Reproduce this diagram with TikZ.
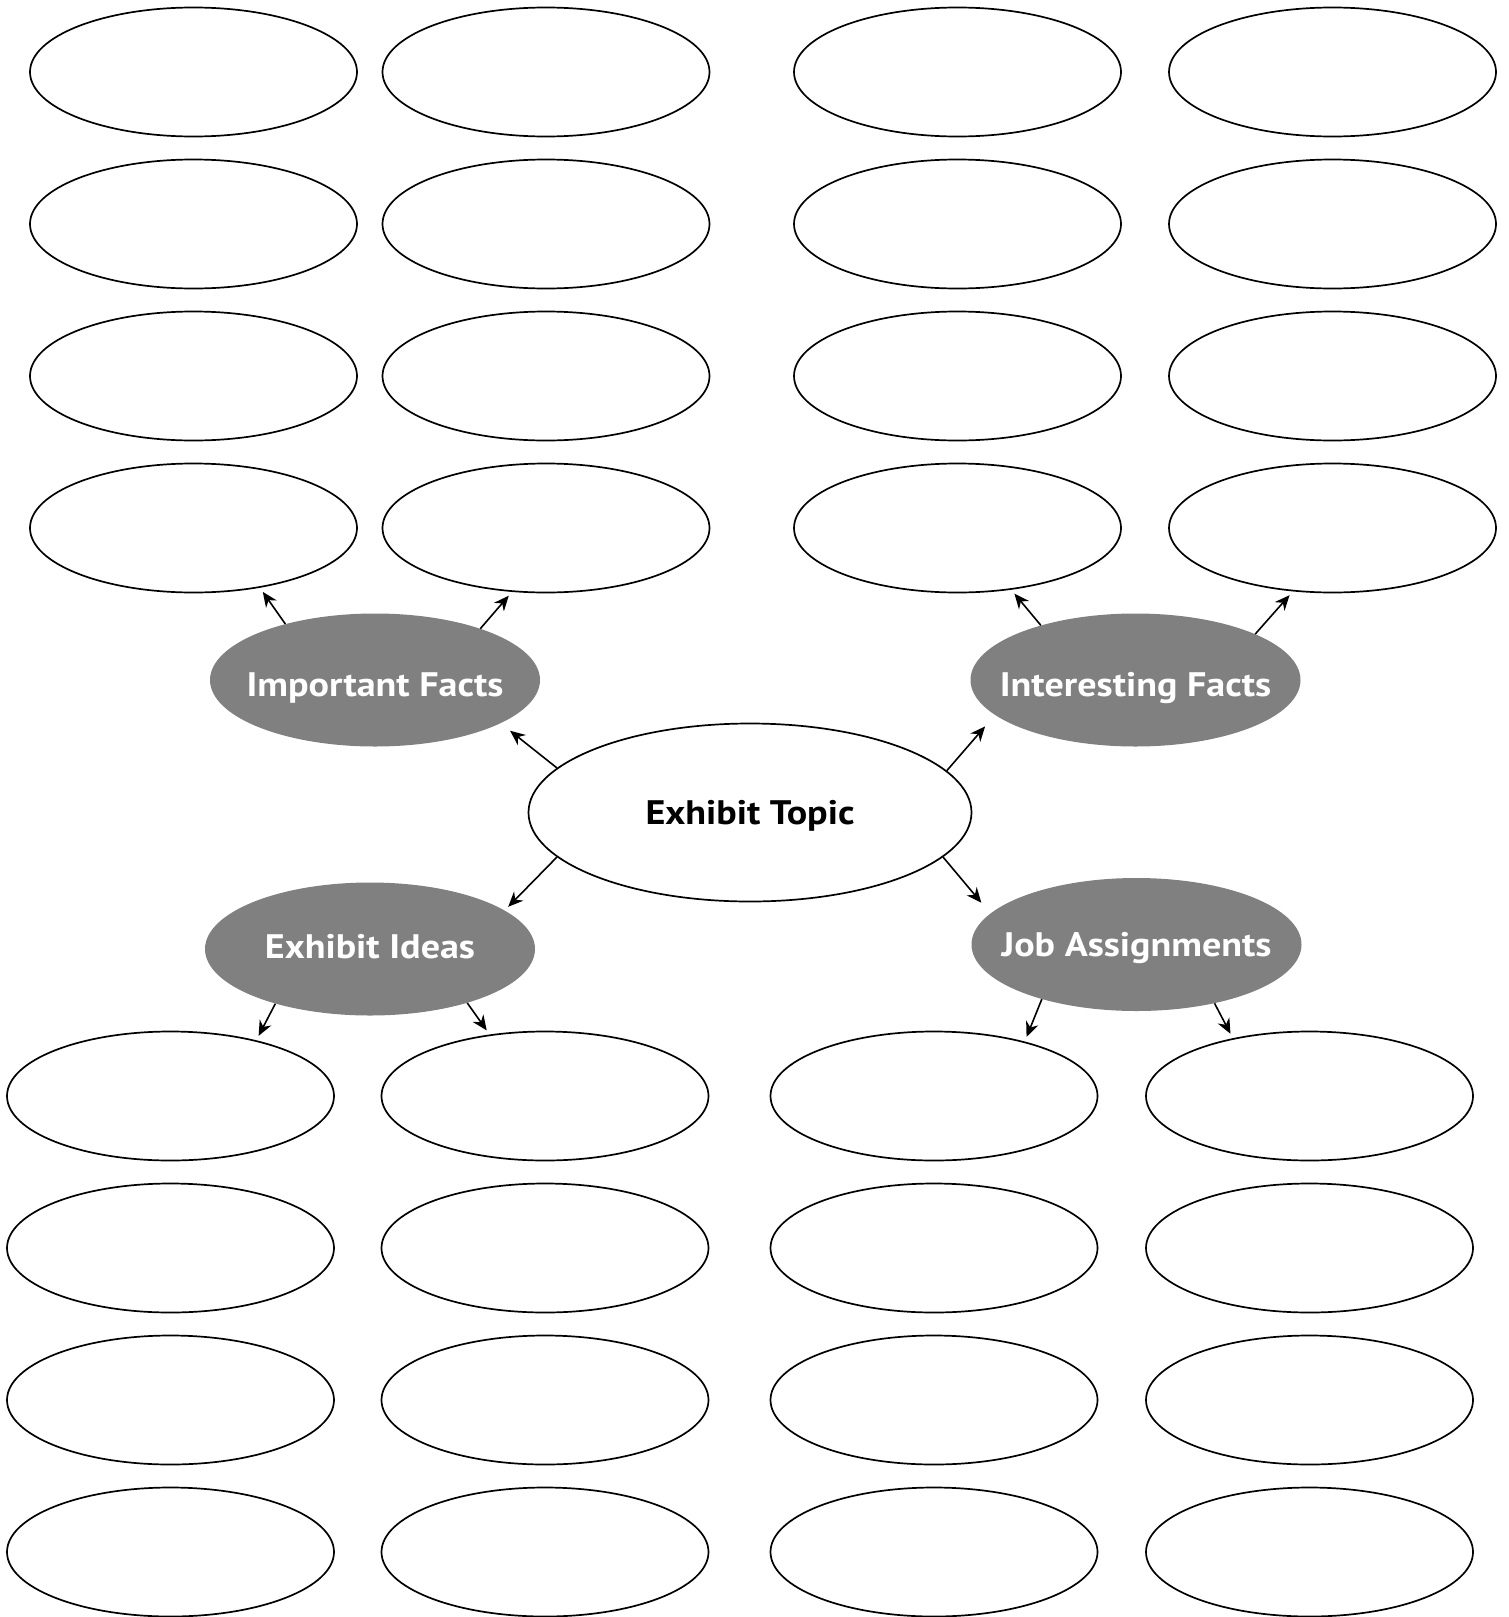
\documentclass[tikz,border=0pt]{standalone}
\usepackage{fontspec}
\setmainfont{PT Sans}[FakeStretch=1.12]
\usetikzlibrary{shapes.geometric,arrows.meta}
\definecolor{hubgray}{RGB}{128,128,128}
\tikzset{
	blank/.style={draw, ellipse, line width=1.7pt, minimum width=327pt, minimum height=129pt, inner sep=0pt},
	topic/.style={draw, ellipse, line width=1.7pt, minimum width=443pt, minimum height=178pt, inner sep=0pt,
		font=\fontsize{34}{40}\selectfont\bfseries, text height=24pt, text depth=0pt},
	hub/.style={ellipse, fill=hubgray, text=white, minimum width=330pt, minimum height=133pt,
		inner xsep=-50pt, inner ysep=0pt, font=\fontsize{34}{40}\selectfont\bfseries, text height=24pt, text depth=0pt},
	link/.style={-{Stealth[length=15pt,width=13pt]}, line width=1.6pt, shorten >=5pt}
}

\begin{document}
\begin{tikzpicture}[x=1pt, y=-1pt]
		%%%%% START %%%%%
		\useasboundingbox (0, 0) rectangle (1509, 1617);
		
		% important facts
		\node[blank] (i1) at (193.5, 72) {};
		\node[blank] (i2) at (546, 72) {};
		\node[blank] (i3) at (193.5, 224) {};
		\node[blank] (i4) at (546, 224) {};
		\node[blank] (i5) at (193.5, 376) {};
		\node[blank] (i6) at (546, 376) {};
		\node[blank] (i7) at (193.5, 528) {};
		\node[blank] (i8) at (546, 528) {};
		
		% interesting facts
		\node[blank] (n1) at (957.5, 72) {};
		\node[blank] (n2) at (1332.5, 72) {};
		\node[blank] (n3) at (957.5, 224) {};
		\node[blank] (n4) at (1332.5, 224) {};
		\node[blank] (n5) at (957.5, 376) {};
		\node[blank] (n6) at (1332.5, 376) {};
		\node[blank] (n7) at (957.5, 528) {};
		\node[blank] (n8) at (1332.5, 528) {};
		
		% exhibit ideas
		\node[blank] (e1) at (170.5, 1096) {};
		\node[blank] (e2) at (545, 1096) {};
		\node[blank] (e3) at (170.5, 1248) {};
		\node[blank] (e4) at (545, 1248) {};
		\node[blank] (e5) at (170.5, 1400) {};
		\node[blank] (e6) at (545, 1400) {};
		\node[blank] (e7) at (170.5, 1552) {};
		\node[blank] (e8) at (545, 1552) {};
		
		% job assignments
		\node[blank] (j1) at (934, 1096) {};
		\node[blank] (j2) at (1309.5, 1096) {};
		\node[blank] (j3) at (934, 1248) {};
		\node[blank] (j4) at (1309.5, 1248) {};
		\node[blank] (j5) at (934, 1400) {};
		\node[blank] (j6) at (1309.5, 1400) {};
		\node[blank] (j7) at (934, 1552) {};
		\node[blank] (j8) at (1309.5, 1552) {};
		
		\node[topic] (top) at (750, 812.5) {Exhibit Topic};
		\node[hub, text height=32pt] (imp) at (375, 680) {Important Facts};
		\node[hub, text height=32pt] (intf) at (1135.5, 680) {Interesting Facts};
		\node[hub, text height=19pt] (idea) at (370, 949) {Exhibit Ideas};
		\node[hub] (job) at (1136.5, 944.5) {Job Assignments};
		
		\draw[link, shorten >=12pt] (top.167) -- (imp.-19);
		\draw[link, shorten >=15pt] (top.12) -- (intf.-166);
		\draw[link] (top.193) -- (idea.16);
		\draw[link, shorten >=14pt] (top.-13) -- (job.168);
		
		\draw[link] (imp.148) -- (i7.-42);
		\draw[link] (imp.26) -- (i8.-118);
		\draw[link] (intf.150) -- (n7.-49);
		\draw[link] (intf.21) -- (n8.-122);
		\draw[link] (idea.-150) -- (e1.33);
		\draw[link] (idea.-29) -- (e2.132);
		\draw[link] (job.-150) -- (j1.31);
		\draw[link] (job.-37) -- (j2.143);
		%%%%% END %%%%%
\end{tikzpicture}
\end{document}
